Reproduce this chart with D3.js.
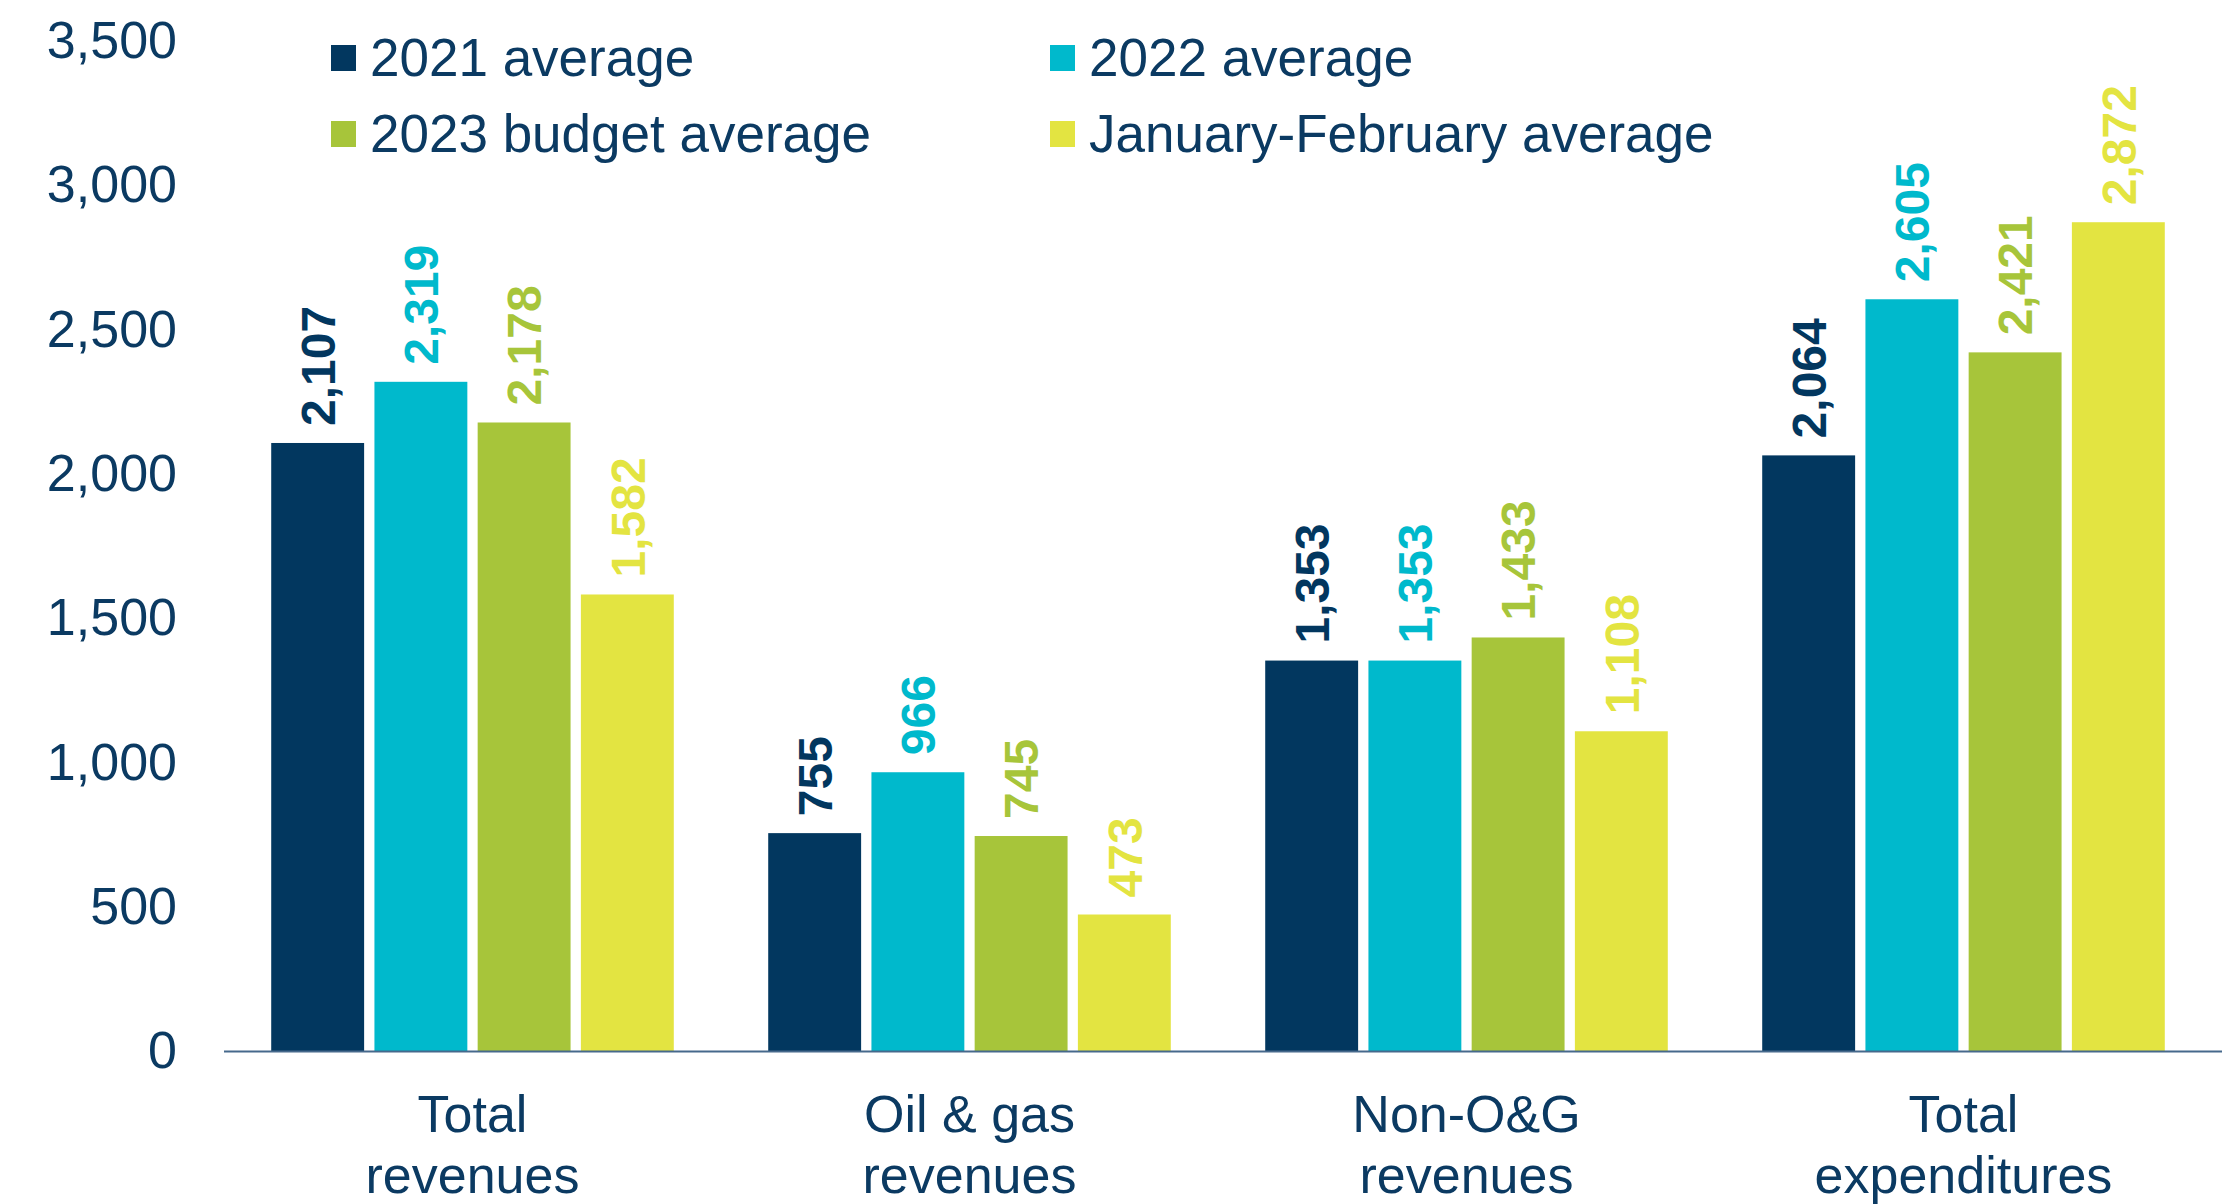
<!DOCTYPE html>
<meta charset="utf-8">
<style>
body { margin: 0; background: #fff; }
text { font-family: "Liberation Sans", Arial, sans-serif; }
</style>
<body>
<script src="https://d3js.org/d3.v7.min.js"></script>
<script>

var width = 2222,
    height = 1204;

// data
var categories = ["Total\nrevenues", "Oil & gas\nrevenues", "Non-O&G\nrevenues", "Total\nexpenditures"];
var seriesNames = ["2021 average", "2022 average", "2023 budget average", "January-February average"];
var avg2021 = [2107, 755, 1353, 2064];
var avg2022 = [2319, 966, 1353, 2605];
var budget2023 = [2178, 745, 1433, 2421];
var janFeb = [1582, 473, 1108, 2872];
var yTicks = [0, 500, 1000, 1500, 2000, 2500, 3000, 3500];

var seriesValues = [avg2021, avg2022, budget2023, janFeb];
var colours = ["#02375f", "#00b9cc", "#a7c53a", "#e3e441"];
var ink = "#0b3a62";

var svg = d3.select("body").append("svg")
    .attr("width", width)
    .attr("height", height);

var x0 = d3.scaleBand()
    .domain(d3.range(categories.length))
    .range([224, 2212])
    .paddingInner(0.19)
    .paddingOuter(0.095);

var x1 = d3.scaleBand()
    .domain(d3.range(seriesNames.length))
    .range([0, x0.bandwidth()])
    .paddingInner(0.1);

var y = d3.scaleLinear()
    .domain([0, 3500])
    .range([1051, 41]);

// y axis
var yAxis = svg.append("g")
    .attr("transform", "translate(177,0)")
    .call(d3.axisLeft(y).tickValues(yTicks).tickSize(0).tickPadding(0).tickFormat(d3.format(",")));
yAxis.select(".domain").remove();
yAxis.selectAll("text")
    .attr("font-size", 52)
    .attr("font-family", "Liberation Sans, Arial, sans-serif")
    .attr("fill", ink);

// bars
var groups = svg.selectAll(".group")
    .data(categories)
    .enter()
    .append("g")
    .attr("class", "group")
    .attr("transform", function(d, i) { return "translate(" + x0(i) + ",0)"; });

groups.selectAll("rect")
    .data(function(d, i) { return seriesValues.map(function(s, j) { return {s: j, v: s[i]}; }); })
    .enter()
    .append("rect")
    .attr("x", function(d) { return x1(d.s); })
    .attr("width", x1.bandwidth())
    .attr("y", function(d) { return y(d.v); })
    .attr("height", function(d) { return y(0) - y(d.v); })
    .attr("fill", function(d) { return colours[d.s]; });

groups.selectAll(".val")
    .data(function(d, i) { return seriesValues.map(function(s, j) { return {s: j, v: s[i]}; }); })
    .enter()
    .append("text")
    .attr("class", "val")
    .attr("transform", function(d) {
        return "translate(" + (x1(d.s) + x1.bandwidth() / 2) + "," + (y(d.v) - 17) + ") rotate(-90)";
    })
    .attr("dy", "0.36em")
    .attr("font-size", 48)
    .attr("font-weight", "bold")
    .attr("fill", function(d) { return colours[d.s]; })
    .text(function(d) { return d3.format(",")(d.v); });

// baseline
svg.append("line")
    .attr("x1", 224)
    .attr("x2", width)
    .attr("y1", y(0) + 0.5)
    .attr("y2", y(0) + 0.5)
    .attr("stroke", "#46698c")
    .attr("stroke-width", 2);

// category labels
var xl = svg.selectAll(".xlabel")
    .data(categories)
    .enter()
    .append("text")
    .attr("class", "xlabel")
    .attr("text-anchor", "middle")
    .attr("font-size", 52)
    .attr("fill", ink);
xl.selectAll("tspan")
    .data(function(d, i) { return d.split("\n").map(function(t) { return {t: t, i: i}; }); })
    .enter()
    .append("tspan")
    .attr("x", function(d) { return x0(d.i) + x0.bandwidth() / 2; })
    .attr("y", function(d, k) { return 1132 + k * 61; })
    .text(function(d) { return d.t; });

// legend
var legendPos = [[331, 45], [1050, 45], [331, 121], [1050, 121]];
var legend = svg.selectAll(".legend")
    .data(seriesNames)
    .enter()
    .append("g")
    .attr("class", "legend")
    .attr("transform", function(d, i) { return "translate(" + legendPos[i][0] + "," + legendPos[i][1] + ")"; });
legend.append("rect")
    .attr("width", 25)
    .attr("height", 26)
    .attr("fill", function(d, i) { return colours[i]; });
legend.append("text")
    .attr("x", 39)
    .attr("y", 31)
    .attr("font-size", 53)
    .attr("fill", ink)
    .text(function(d) { return d; });

</script>
